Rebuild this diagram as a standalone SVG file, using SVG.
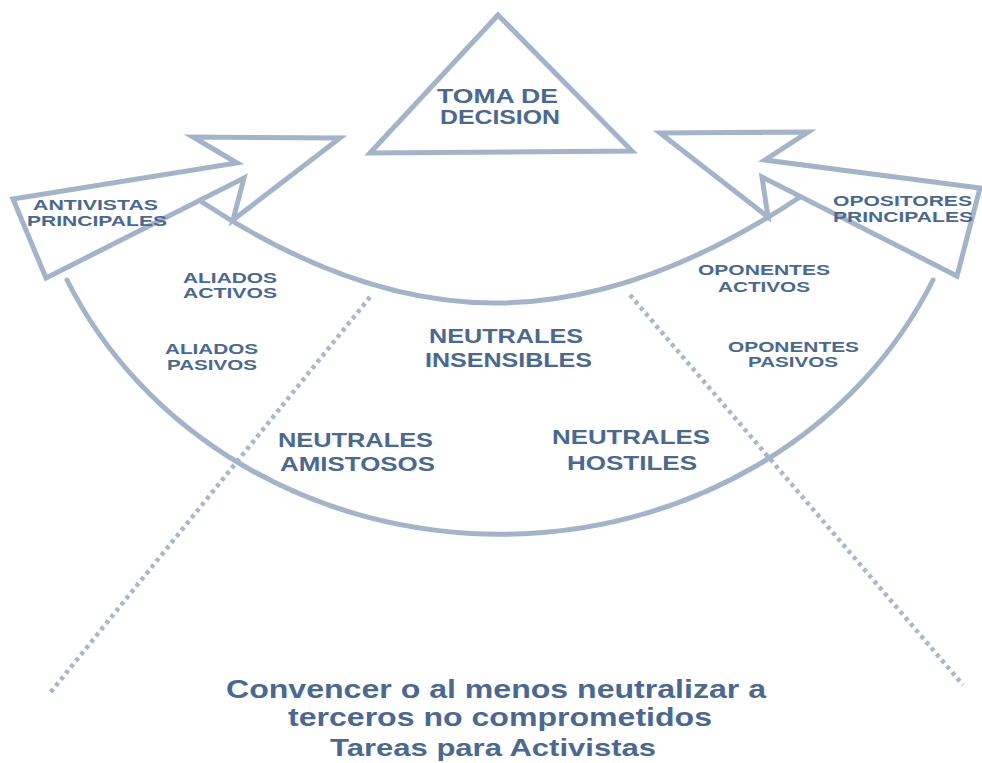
<svg xmlns="http://www.w3.org/2000/svg" width="982" height="763" viewBox="0 0 982 763">
<style>
.shape{fill:none;stroke:#a3b3ca;stroke-width:5;stroke-linejoin:miter;stroke-linecap:round}
.dots{fill:none;stroke:#a9b7ca;stroke-width:4.5;stroke-dasharray:4 4}
.t{font-family:"Liberation Sans",Arial,sans-serif;font-weight:bold;fill:#4a6894}
.s14{font-size:14px}
.s15{font-size:15px}
.s20{font-size:20px}
.s21{font-size:21px}
.s24{font-size:24px}
.s25{font-size:25px}
</style>
<rect width="982" height="763" fill="#ffffff"/>
<g id="connectors">
<line class="dots" x1="370" y1="297" x2="50" y2="693"/>
<line class="dots" x1="630" y1="295" x2="963" y2="685"/>
</g>
<g id="band">
<path class="shape" d="M67,280 A476,435 0 0 0 933,280"/>
<path class="shape" d="M202,202 C320,280 420,304 500,303 C590,302 690,270 800,197"/>
</g>
<g id="toma-de-decision">
<polygon class="shape" stroke-width="4" points="498,15 370,153 632,151"/>
<text class="t s20" x="437" y="103" textLength="121" lengthAdjust="spacingAndGlyphs">TOMA DE</text>
<text class="t s20" x="440" y="124" textLength="120" lengthAdjust="spacingAndGlyphs">DECISION</text>
</g>
<g id="antivistas-principales">
<polygon class="shape" points="13,199 237,163 193,137 340,138 233,220 244,178 46,278"/>
<text class="t s15" x="33" y="210" textLength="125" lengthAdjust="spacingAndGlyphs">ANTIVISTAS</text>
<text class="t s15" x="27" y="226" textLength="140" lengthAdjust="spacingAndGlyphs">PRINCIPALES</text>
</g>
<g id="opositores-principales">
<polygon class="shape" points="660,133 808,132 765,160 980,188 957,276 762,177 768,217"/>
<text class="t s14" x="833" y="206" textLength="139" lengthAdjust="spacingAndGlyphs">OPOSITORES</text>
<text class="t s14" x="833" y="222" textLength="140" lengthAdjust="spacingAndGlyphs">PRINCIPALES</text>
</g>
<g id="aliados-activos">
<text class="t s14" x="183" y="283" textLength="94" lengthAdjust="spacingAndGlyphs">ALIADOS</text>
<text class="t s14" x="183" y="298" textLength="94" lengthAdjust="spacingAndGlyphs">ACTIVOS</text>
</g>
<g id="aliados-pasivos">
<text class="t s14" x="165" y="354" textLength="93" lengthAdjust="spacingAndGlyphs">ALIADOS</text>
<text class="t s14" x="167" y="370" textLength="90" lengthAdjust="spacingAndGlyphs">PASIVOS</text>
</g>
<g id="neutrales-insensibles">
<text class="t s21" x="429" y="343" textLength="154" lengthAdjust="spacingAndGlyphs">NEUTRALES</text>
<text class="t s21" x="425" y="367" textLength="167" lengthAdjust="spacingAndGlyphs">INSENSIBLES</text>
</g>
<g id="neutrales-amistosos">
<text class="t s21" x="278" y="447" textLength="155" lengthAdjust="spacingAndGlyphs">NEUTRALES</text>
<text class="t s21" x="280" y="471" textLength="155" lengthAdjust="spacingAndGlyphs">AMISTOSOS</text>
</g>
<g id="neutrales-hostiles">
<text class="t s21" x="552" y="444" textLength="158" lengthAdjust="spacingAndGlyphs">NEUTRALES</text>
<text class="t s21" x="567" y="470" textLength="130" lengthAdjust="spacingAndGlyphs">HOSTILES</text>
</g>
<g id="oponentes-activos">
<text class="t s14" x="698" y="275" textLength="132" lengthAdjust="spacingAndGlyphs">OPONENTES</text>
<text class="t s14" x="718" y="292" textLength="92" lengthAdjust="spacingAndGlyphs">ACTIVOS</text>
</g>
<g id="oponentes-pasivos">
<text class="t s14" x="728" y="352" textLength="131" lengthAdjust="spacingAndGlyphs">OPONENTES</text>
<text class="t s14" x="748" y="367" textLength="90" lengthAdjust="spacingAndGlyphs">PASIVOS</text>
</g>
<g id="caption">
<text class="t s25" x="226" y="698" textLength="540" lengthAdjust="spacingAndGlyphs">Convencer o al menos neutralizar a</text>
<text class="t s25" x="288" y="726" textLength="424" lengthAdjust="spacingAndGlyphs">terceros no comprometidos</text>
<text class="t s24" x="330" y="756" textLength="326" lengthAdjust="spacingAndGlyphs">Tareas para Activistas</text>
</g>
</svg>
